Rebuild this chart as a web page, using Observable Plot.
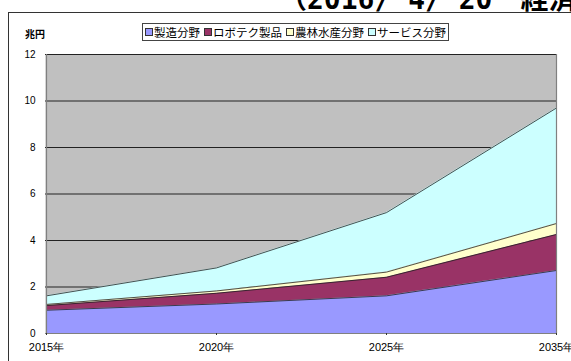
<!DOCTYPE html>
<html><head><meta charset="utf-8">
<script src="https://cdn.jsdelivr.net/npm/d3@7"></script>
<script src="https://cdn.jsdelivr.net/npm/@observablehq/plot@0.6"></script>
<style>
html,body{margin:0;padding:0;background:#fff;}
#wrap{position:relative;width:571px;height:361px;overflow:hidden;font-family:"Liberation Sans",Arial,sans-serif;}
#frame{position:absolute;left:8px;top:12px;width:600px;height:400px;border-left:1px solid #333;border-top:1px solid #333;}
#title{position:absolute;left:279px;top:-14px;font:bold 28px "DejaVu Sans Mono","Noto Sans CJK JP",monospace;white-space:pre;color:#000;line-height:28px;}
#unit{position:absolute;left:25px;top:26px;font:bold 10px "Noto Sans CJK JP",sans-serif;}
#legend{position:absolute;left:142px;top:23px;width:305px;height:16px;border:1px solid #444;background:#fff;display:flex;align-items:center;justify-content:center;font:11.5px "Noto Sans CJK JP",sans-serif;white-space:nowrap;}
#legend .it{display:flex;align-items:center;margin:0 2px;}
#legend .sw{width:6px;height:6px;border:1px solid #333;margin-right:1px;}
#chart{position:absolute;left:0;top:0;}
</style></head>
<body><div id="wrap">
<div id="chart"></div>
<div id="frame"></div>
<div id="title">（2016/ 4/ 20　経済</div>
<div id="unit">兆円</div>
<div id="legend"></div>
</div>
<script>
const years = ["2015年","2020年","2025年","2035年"];
const seriesNames = ["製造分野","ロボテク製品","農林水産分野","サービス分野"];
const manufacturing = [1.0, 1.27, 1.62, 2.71];
const robotech = [0.2, 0.46, 0.8, 1.55];
const agriculture = [0.05, 0.1, 0.22, 0.47];
const service = [0.37, 0.99, 2.56, 4.97];
const colors = ["#9999FF","#993366","#FFFFCC","#CCFFFF"];
const yTicks = [0,2,4,6,8,10,12];

const seriesValues = [manufacturing, robotech, agriculture, service];
const data = [];
seriesNames.forEach((s,i)=>years.forEach((yr,j)=>data.push({year:yr, series:s, value:seriesValues[i][j]})));

const plot = Plot.plot({
  width:571, height:361,
  marginLeft:45, marginRight:15, marginTop:54, marginBottom:28,
  style:{fontFamily:"Liberation Sans, Arial, sans-serif", background:"transparent"},
  x:{type:"point", domain:years, padding:0, label:null},
  y:{domain:[0,12], label:null},
  color:{domain:seriesNames, range:colors},
  marks:[
    Plot.frame({fill:"#C0C0C0", stroke:null}),
    Plot.ruleY(yTicks.filter(d=>d>0), {stroke:"#222", strokeWidth:1}),
    Plot.areaY(data, Plot.stackY({x:"year", y:"value", z:"series", fill:"series", order:null, curve:"linear"})),
    Plot.lineY(data, Plot.stackY2({x:"year", y:"value", z:"series", order:null, stroke:"#222", strokeWidth:0.8})),
    Plot.ruleX([years[0], years[years.length-1]], {stroke:"#808080", strokeWidth:1.2}),
    Plot.ruleY([0], {stroke:"#808080", strokeWidth:1.2}),
    Plot.axisY({ticks:yTicks, tickSize:0, tickPadding:10, fontSize:10, tickFormat:d=>d, label:null}),
    Plot.axisX({tickSize:2, tickPadding:8, fontSize:11, stroke:"#333", label:null})
  ]
});
document.getElementById("chart").appendChild(plot);

const leg = document.getElementById("legend");
seriesNames.forEach((s,i)=>{
  const it=document.createElement("div"); it.className="it";
  const sw=document.createElement("div"); sw.className="sw"; sw.style.background=colors[i];
  const tx=document.createElement("span"); tx.textContent=s;
  it.appendChild(sw); it.appendChild(tx); leg.appendChild(it);
});
</script>
</body></html>
